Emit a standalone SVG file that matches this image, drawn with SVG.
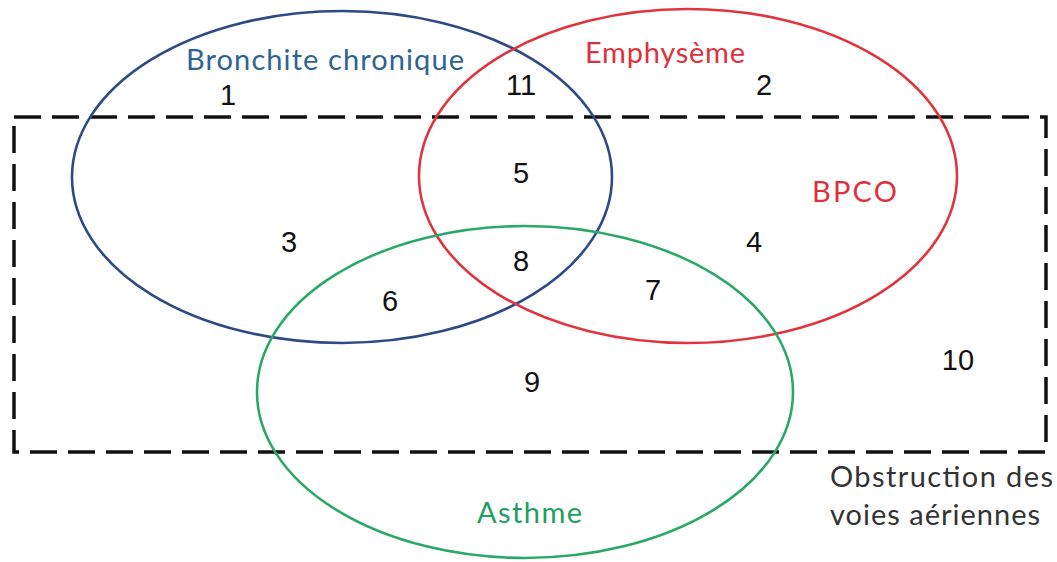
<svg xmlns="http://www.w3.org/2000/svg" width="1057" height="562" viewBox="0 0 1057 562">
<style>
.set{fill:none;stroke-width:2.6}
.num{font-family:"Liberation Sans",Arial,sans-serif;font-size:29px;fill:#111;text-anchor:middle}
.lbl{font-family:Lato,"Open Sans",sans-serif;font-size:29px}
</style>
<rect width="1057" height="562" fill="#fff"/>
<g id="obstruction">
<rect x="14" y="117" width="1032" height="335" fill="none" stroke="#111" stroke-width="3.5" stroke-dasharray="27 11"/>
<text class="lbl" x="830" y="487" fill="#333" textLength="223" lengthAdjust="spacing">Obstruction des</text>
<text class="lbl" x="830" y="525" fill="#333" textLength="210" lengthAdjust="spacing">voies aériennes</text>
</g>
<g id="bronchite">
<ellipse class="set" cx="342" cy="177" rx="270" ry="166" stroke="#2c4a85"/>
<text class="lbl" x="186" y="70" fill="#2e6490" textLength="278" lengthAdjust="spacing">Bronchite chronique</text>
</g>
<g id="emphyseme">
<ellipse class="set" cx="688" cy="176" rx="269" ry="167" stroke="#e0353f"/>
<text class="lbl" x="585" y="63" fill="#e0303c" textLength="160" lengthAdjust="spacing">Emphysème</text>
<text class="lbl" x="812" y="202" fill="#e0303c" textLength="85" lengthAdjust="spacing">BPCO</text>
</g>
<g id="asthme">
<ellipse class="set" cx="525" cy="392" rx="268" ry="166" stroke="#2aa86a"/>
<text class="lbl" x="477" y="523" fill="#20a060" textLength="105" lengthAdjust="spacing">Asthme</text>
</g>
<g id="regions">
<text class="num" x="228" y="105">1</text>
<text class="num" x="521" y="95">11</text>
<text class="num" x="764" y="95">2</text>
<text class="num" x="521" y="183">5</text>
<text class="num" x="289" y="252">3</text>
<text class="num" x="521" y="271">8</text>
<text class="num" x="754" y="252">4</text>
<text class="num" x="390" y="311">6</text>
<text class="num" x="653" y="300">7</text>
<text class="num" x="532" y="392">9</text>
<text class="num" x="958" y="370">10</text>
</g>
</svg>
